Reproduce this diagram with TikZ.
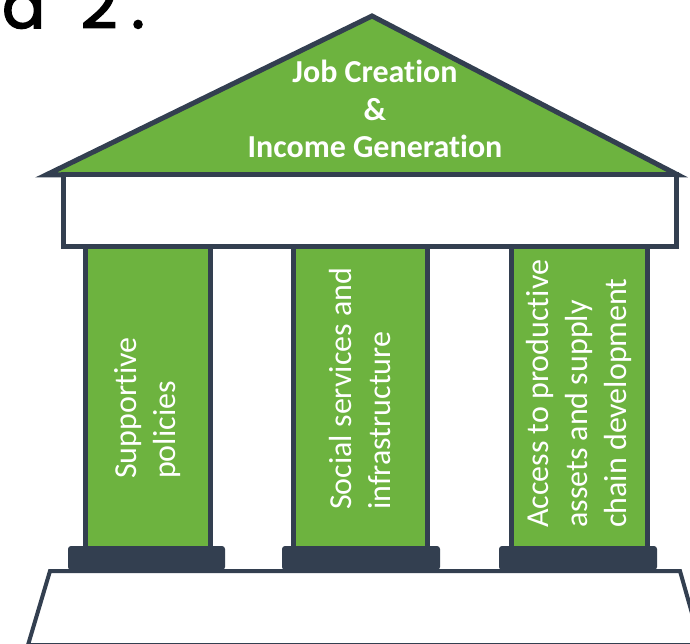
\documentclass[tikz,border=0pt]{standalone}
\usepackage{fontspec}
\setmainfont[Ligatures=NoCommon]{Carlito}
\newfontfamily\captionfont[FakeBold=2.5]{Poppins}
\usepackage{xcolor}
\definecolor{pillargreen}{HTML}{6DB33F}
\definecolor{stonedark}{HTML}{333F50}

\begin{document}
\begin{tikzpicture}[x=1pt,y=1pt]
		\tikzstyle{every node}+=[inner sep=0pt, text=white]
		\tikzstyle{outline}=[draw=stonedark, line width=5pt, line join=miter]
		\tikzstyle{pillar}=[outline, fill=pillargreen]
		\tikzstyle{plinth}=[fill=stonedark, rounded corners=3pt]
		\tikzstyle{pillartext}=[rotate=90, anchor=west, align=left, font=\fontsize{32}{39}\selectfont]
		\useasboundingbox (0,0) rectangle (690,-644);
		\clip (0,0) rectangle (690,-644);
		% caption cut off at the top
		\node (caption) [anchor=base east, text=black, font=\captionfont\fontsize{64}{70}\selectfont] at (145,-28) {a\hspace{0.55em}2\kern14pt.};
		% roof and beam
		\draw [pillar] (46,-175) -- (372,-16) -- (678,-175) -- cycle;
		\draw [outline, fill=white] (63,-175) rectangle (676,-247);
		\node (roof) [align=center, font=\bfseries\fontsize{32}{37.5}\selectfont] at (375,-109) {Job Creation\\ \&\\ Income Generation};
		% pillars
		\draw [pillar] (85.5,-247) rectangle (210.5,-548);
		\draw [pillar] (293.5,-247) rectangle (427,-548);
		\draw [pillar] (511.5,-247) rectangle (647,-548);
		\node (policies) [pillartext] at (148,-479) {Supportive\\ policies};
		\node (services) [pillartext] at (360,-510) {Social services and\\ infrastructure};
		\node (access) [pillartext] at (579,-528) {Access to productive\\ assets and supply\\ chain development};
		% steps under the pillars
		\draw [outline, line width=4pt, fill=white] (50,-571) -- (680,-571) -- (701,-645) -- (28,-645) -- cycle;
		\fill [plinth] (68,-546) rectangle (225,-570);
		\fill [plinth] (282,-546) rectangle (440,-570);
		\fill [plinth] (499,-546) rectangle (657,-570);
	\end{tikzpicture}
\end{document}
